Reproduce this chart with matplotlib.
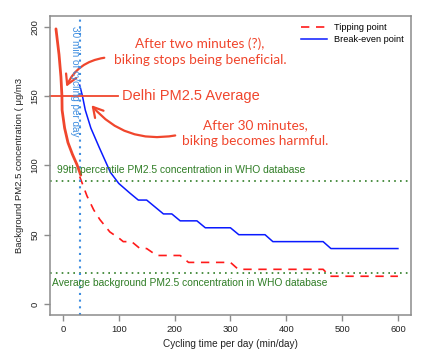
import numpy as np
import matplotlib.pyplot as plt
from matplotlib.patches import FancyArrowPatch
from matplotlib.lines import Line2D

# break-even point (blue, solid)
be_x = [30, 35, 40, 50, 65, 85, 100, 120, 135, 150, 180, 195, 210, 240, 255, 300, 315, 362, 376, 466, 480, 600]
be_y = [158, 150, 140, 127, 113, 95, 87, 80, 75, 75, 65, 65, 60, 60, 55, 55, 50, 50, 45, 45, 40, 40]

# tipping point (red, dashed)
tp_x = [30, 43, 55, 66, 84, 102, 108, 123, 138, 150, 168, 210, 225, 300, 314, 466, 478, 600]
tp_y = [92, 78, 68, 61, 52, 47, 45, 45, 40, 40, 35, 35, 30, 30, 25, 25, 20, 20]

# hand drawn stroke over the start of the tipping curve
hand_x = [-12.5, -7, -3.6, -1.8, -1.5, 3, 9, 17, 25, 32]
hand_y = [198.6, 180, 164, 150, 140, 127, 116.5, 108, 100.7, 93]

who_99 = 88.5
who_avg = 22.3
delhi = 150
cycle_min = 30

grey = '#8c8c8c'
ann = '#f0462d'
green = '#2f7d25'

fig = plt.figure(figsize=(4.21, 3.52), dpi=100)
ax = fig.add_axes([0.119, 0.105, 0.858, 0.850])

ax.plot(be_x, be_y, color='#0a1aff', lw=1.1)
ax.plot(tp_x, tp_y, color='#ff1a1a', lw=1.2, ls=(0, (5, 4)))

ax.axhline(who_99, color=green, lw=1.2, ls=(0, (1, 2.5)))
ax.axhline(who_avg, color=green, lw=1.2, ls=(0, (1, 2.5)))
ax.axvline(cycle_min, color='#3f8ee0', lw=1.5, ls=(0, (1, 2.2)))

ax.text(-10.8, 97, '99th percentile PM2.5 concentration in WHO database',
        color=green, fontsize=7.4, family='Liberation Sans', va='center')
ax.text(-19.7, 15, 'Average background PM2.5 concentration in WHO database',
        color=green, fontsize=7.4, family='Liberation Sans', va='center')
ax.text(21.5, 161, '30 min of cycling per day', color='#3f8ee0', fontsize=7.2,
        family='Liberation Sans', rotation=270, ha='center', va='center')

# annotations
ax.plot(hand_x, hand_y, color=ann, lw=2, solid_capstyle='round', clip_on=False)
ax.plot([-23, 98], [delhi, delhi], color=ann, lw=1.3, clip_on=False)
ax.text(105.7, 150.4, 'Delhi PM2.5 Average', color=ann, fontsize=10.5,
        family='Liberation Sans', va='center')
ax.text(245.5, 182, 'After two minutes (?),\nbiking stops being beneficial.',
        color=ann, fontsize=9.8, family='Lato', ha='center', va='center',
        linespacing=1.4)
ax.text(344, 123.4, 'After 30 minutes,\nbiking becomes harmful.',
        color=ann, fontsize=9.8, family='Lato', ha='center', va='center',
        linespacing=1.35)
for a, b, rad in [((79, 178), (4, 155), 0.3), ((206, 122), (48, 145), -0.3)]:
    ax.add_patch(FancyArrowPatch(a, b, connectionstyle='arc3,rad=%s' % rad,
                                 arrowstyle='->,head_length=7,head_width=4',
                                 color=ann, lw=1.6, clip_on=False))

ax.set_xlim(-23, 624)
ax.set_ylim(-8, 208)
ax.set_xticks([0, 100, 200, 300, 400, 500, 600])
ax.set_yticks([0, 50, 100, 150, 200])
ax.set_yticklabels(['0', '50', '100', '150', '200'], rotation=90, va='center')
for s in ax.spines.values():
    s.set_color(grey)
    s.set_linewidth(1.1)
ax.tick_params(colors=grey, labelcolor='#222222', labelsize=6.8, length=4, width=1)
for lab in ax.get_xticklabels() + ax.get_yticklabels():
    lab.set_family('Liberation Sans')
ax.set_xlabel('Cycling time per day (min/day)', fontsize=7.2, family='Liberation Sans',
              color='#222222', labelpad=3)
ax.set_ylabel('Background PM2.5 concentration ( \u03bcg/m3', fontsize=6.8,
              family='Liberation Sans', color='#222222', labelpad=5)

h = [Line2D([], [], color='#ff1a1a', lw=1.2, ls=(0, (5, 4))),
     Line2D([], [], color='#0a1aff', lw=1.1)]
ax.legend(h, ['Tipping point', 'Break-even point'], loc='upper right',
          bbox_to_anchor=(1.0, 1.0), frameon=False, prop={'family': 'Liberation Sans', 'size': 6.6},
          handlelength=2.8, handletextpad=0.8, labelspacing=0.3, borderaxespad=0.4)

fig.savefig('out.png', dpi=100)
